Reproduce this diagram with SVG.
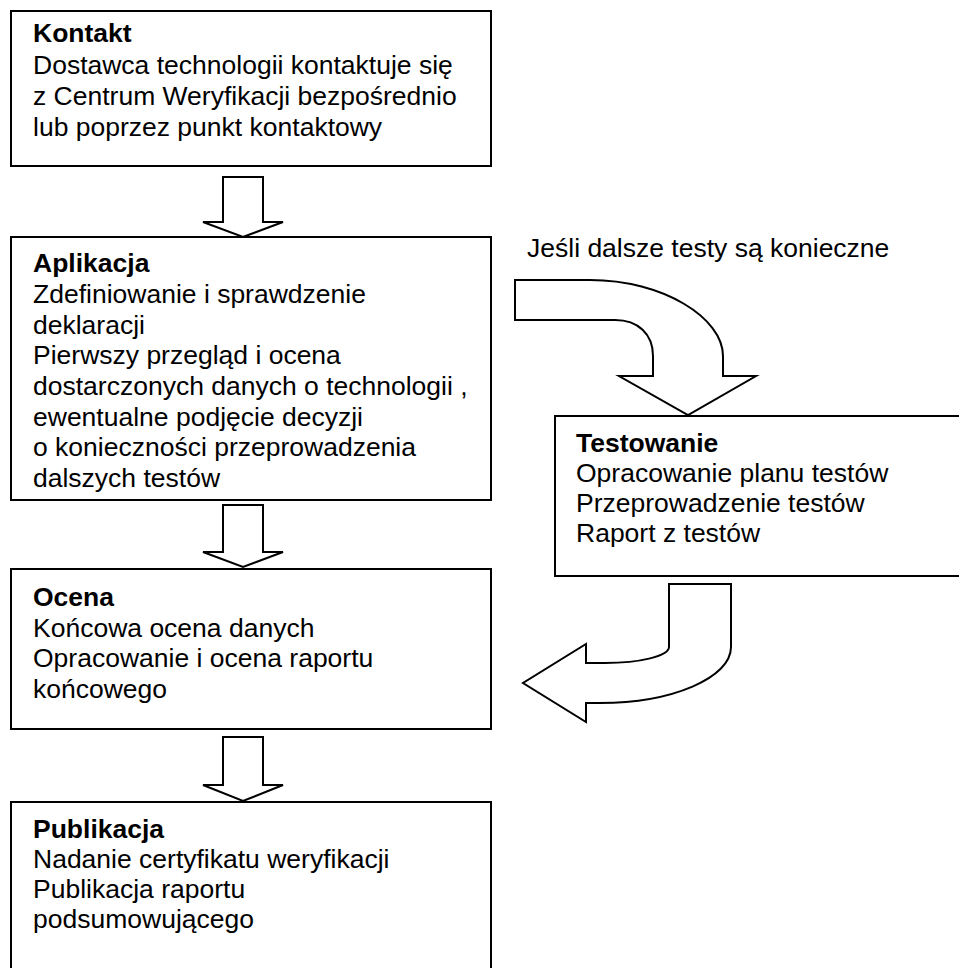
<svg xmlns="http://www.w3.org/2000/svg" width="959" height="968" viewBox="0 0 959 968">
<style>
.box{fill:#fff;stroke:#000;stroke-width:2}
.arr{fill:#fff;stroke:#000;stroke-width:2;stroke-linejoin:miter}
text{font-family:"Liberation Sans",Arial,sans-serif;font-size:26.5px;fill:#000}
.t{font-weight:bold}
</style>
<rect width="959" height="968" fill="#fff"/>
<g id="connectors">
<path class="arr" d="M223,177 L263,177 L263,222 L283,222 L243,237 L203,222 L223,222 Z"/>
<path class="arr" d="M223,505 L263,505 L263,552 L283,552 L243,567 L203,552 L223,552 Z"/>
<path class="arr" d="M223,737 L263,737 L263,785 L283,785 L243,801 L203,785 L223,785 Z"/>
<path class="arr" d="M515,280 L590,280 C663,280 723,318 723,356 L723,376 L756,376 L688,415 L619,376 L653,376 L653,356 C653,334 638,320 615,320 L515,320 Z"/>
<path class="arr" d="M669,584 L731,584 L731,647 C731,678 672,703 600,703 L586,703 L586,722 L523,683 L586,644 L586,663 L605,663 C640,663 669,656 669,647 Z"/>
</g>
<g id="kontakt">
<rect class="box" x="11" y="11" width="480" height="155"/>
<text class="t" x="33" y="42">Kontakt</text>
<text x="33" y="74">Dostawca technologii kontaktuje się</text>
<text x="33" y="105">z Centrum Weryfikacji bezpośrednio</text>
<text x="33" y="136">lub poprzez punkt kontaktowy</text>
</g>
<g id="aplikacja">
<rect class="box" x="11" y="237" width="480" height="263"/>
<text class="t" x="33" y="272">Aplikacja</text>
<text x="33" y="303">Zdefiniowanie i sprawdzenie</text>
<text x="33" y="333.5">deklaracji</text>
<text x="33" y="364">Pierwszy przegląd i ocena</text>
<text x="33" y="395">dostarczonych danych o technologii ,</text>
<text x="33" y="425.5">ewentualne podjęcie decyzji</text>
<text x="33" y="456">o konieczności przeprowadzenia</text>
<text x="33" y="487">dalszych testów</text>
</g>
<g id="label">
<text x="527" y="257">Jeśli dalsze testy są konieczne</text>
</g>
<g id="testowanie">
<rect class="box" x="555" y="416" width="420" height="160"/>
<text class="t" x="576" y="452">Testowanie</text>
<text x="576" y="482">Opracowanie planu testów</text>
<text x="576" y="512">Przeprowadzenie testów</text>
<text x="576" y="542">Raport z testów</text>
</g>
<g id="ocena">
<rect class="box" x="11" y="569" width="480" height="160"/>
<text class="t" x="33" y="606">Ocena</text>
<text x="33" y="636.5">Końcowa ocena danych</text>
<text x="33" y="667">Opracowanie i ocena raportu</text>
<text x="33" y="697.5">końcowego</text>
</g>
<g id="publikacja">
<rect class="box" x="11" y="802" width="480" height="180"/>
<text class="t" x="33" y="838">Publikacja</text>
<text x="33" y="868">Nadanie certyfikatu weryfikacji</text>
<text x="33" y="898">Publikacja raportu</text>
<text x="33" y="928">podsumowującego</text>
</g>
</svg>
